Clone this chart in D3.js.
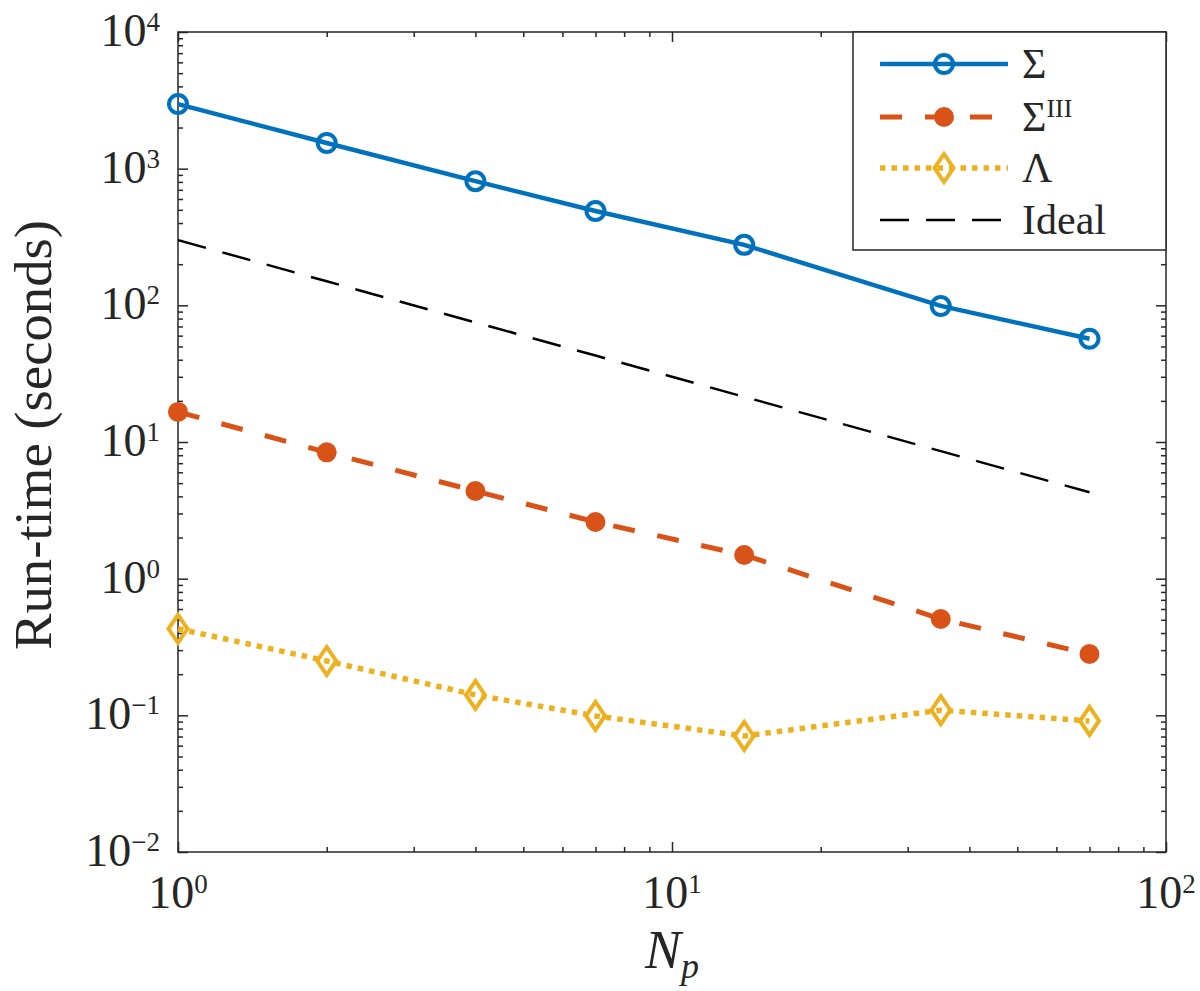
<!DOCTYPE html>
<html>
<head>
<meta charset="utf-8">
<script src="https://cdn.jsdelivr.net/npm/d3@7"></script>
<style>
    body { margin: 0; background: #fff; }
    text { font-family: 'Liberation Serif', 'DejaVu Serif', serif; fill: #262626; }
</style>
</head>
<body>
<div id="chart"></div>
<script>
'use strict';

/*
Data
 */
const npValues = [1, 2, 4, 7, 14, 35, 70];
const sigmaValues = [2970, 1540, 810, 490, 277, 99, 57];
const sigma3Values = [16.6, 8.4, 4.38, 2.6, 1.49, 0.507, 0.281];
const lambdaValues = [0.43, 0.25, 0.141, 0.099, 0.0706, 0.109, 0.091];
const idealValues = [300, 150, 75, 42.9, 21.4, 8.57, 4.29];
const xTickValues = [1, 10, 100];
const xTickExps = ['0', '1', '2'];
const yTickValues = [0.01, 0.1, 1, 10, 100, 1000, 10000];
const yTickExps = ['\u22122', '\u22121', '0', '1', '2', '3', '4'];
const seriesNames = ['sigma', 'sigma3', 'lambda', 'ideal'];

/*
Chart
 */
class RunTimeChart {

    // Configs
    svgW = 1200;
    svgH = 991;
    gMargin = {top: 32, right: 34, bottom: 139, left: 178};
    gW = this.svgW - (this.gMargin.left + this.gMargin.right);
    gH = this.svgH - (this.gMargin.top + this.gMargin.bottom);
    axisColor = '#262626';

    // Styles per series
    styles = {
        sigma: {color: '#0072BD', width: 4.5, dash: null, marker: 'circle'},
        sigma3: {color: '#D95319', width: 5, dash: '22 23', marker: 'dot'},
        lambda: {color: '#EDB120', width: 5.5, dash: '5.5 6', marker: 'diamond'},
        ideal: {color: '#000000', width: 2.5, dash: '29 17', marker: null}
    };

    constructor(_target) {
        this.target = _target;
        this.init();
    }

    /*
    1. Init
     */
    init() {
        const vis = this;

        vis.svg = d3.select(`#${vis.target}`)
            .append('svg')
            .attr('width', vis.svgW)
            .attr('height', vis.svgH);
        vis.g = vis.svg.append('g')
            .attr('transform', `translate(${vis.gMargin.left},${vis.gMargin.top})`);

        // Scales
        vis.x = d3.scaleLog().domain([1, 100]).range([0, vis.gW]);
        vis.y = d3.scaleLog().domain([0.01, 10000]).range([vis.gH, 0]);

        vis.wrangle();
    }

    /*
    2. Wrangle
     */
    wrangle() {
        const vis = this;

        const columns = {
            sigma: sigmaValues,
            sigma3: sigma3Values,
            lambda: lambdaValues,
            ideal: idealValues
        };
        vis.series = seriesNames.map(name => ({
            name: name,
            points: npValues.map((np, i) => ({x: np, y: columns[name][i]}))
        }));

        // Minor ticks 2..9 per decade
        vis.xMinor = [];
        xTickValues.slice(0, -1).forEach(d => {
            for (let k = 2; k <= 9; k++) vis.xMinor.push(d * k);
        });
        vis.yMinor = [];
        yTickValues.slice(0, -1).forEach(d => {
            for (let k = 2; k <= 9; k++) vis.yMinor.push(d * k);
        });

        vis.render();
    }

    /*
    3. Render
     */
    render() {
        const vis = this;

        vis.drawAxes();

        // Lines
        const lineMaker = d3.line()
            .x(d => vis.x(d.x))
            .y(d => vis.y(d.y));

        const plotG = vis.g.append('g').attr('class', 'plotG');
        vis.series.forEach(s => {
            const st = vis.styles[s.name];
            plotG.append('path')
                .datum(s.points)
                .attr('d', lineMaker)
                .attr('fill', 'none')
                .attr('stroke', st.color)
                .attr('stroke-width', st.width)
                .attr('stroke-dasharray', st.dash);
            if (st.marker) {
                plotG.selectAll(`.marker-${s.name}`)
                    .data(s.points)
                    .join('g')
                    .attr('class', `marker-${s.name}`)
                    .attr('transform', d => `translate(${vis.x(d.x)},${vis.y(d.y)})`)
                    .each(function() { vis.drawMarker(d3.select(this), st); });
            }
        });

        vis.drawLegend();
    }

    /*
    drawMarker
     */
    drawMarker(sel, st) {
        if (st.marker === 'circle') {
            sel.append('circle')
                .attr('r', 9)
                .attr('fill', 'none')
                .attr('stroke', st.color)
                .attr('stroke-width', 4);
        } else if (st.marker === 'dot') {
            sel.append('circle')
                .attr('r', 10)
                .attr('fill', st.color);
        } else if (st.marker === 'diamond') {
            sel.append('path')
                .attr('d', 'M0,-14L9.5,0L0,14L-9.5,0Z')
                .attr('fill', 'none')
                .attr('stroke', st.color)
                .attr('stroke-width', 4);
        }
    }

    /*
    drawAxes
     */
    drawAxes() {
        const vis = this;
        const axesG = vis.g.append('g').attr('class', 'axesG');

        // Inward ticks on all four sides
        const addAxis = (axisFn, scale, values, size, transform) => {
            const a = axesG.append('g')
                .attr('transform', transform)
                .call(axisFn(scale).tickValues(values).tickSize(-size).tickFormat(''));
            a.select('.domain').remove();
            a.selectAll('line').attr('stroke', vis.axisColor).attr('stroke-width', 1.5);
        };
        addAxis(d3.axisBottom, vis.x, xTickValues, 10, `translate(0,${vis.gH})`);
        addAxis(d3.axisBottom, vis.x, vis.xMinor, 5, `translate(0,${vis.gH})`);
        addAxis(d3.axisTop, vis.x, xTickValues, 10, 'translate(0,0)');
        addAxis(d3.axisTop, vis.x, vis.xMinor, 5, 'translate(0,0)');
        addAxis(d3.axisLeft, vis.y, yTickValues, 10, 'translate(0,0)');
        addAxis(d3.axisLeft, vis.y, vis.yMinor, 5, 'translate(0,0)');
        addAxis(d3.axisRight, vis.y, yTickValues, 10, `translate(${vis.gW},0)`);
        addAxis(d3.axisRight, vis.y, vis.yMinor, 5, `translate(${vis.gW},0)`);

        // Box
        axesG.append('rect')
            .attr('width', vis.gW)
            .attr('height', vis.gH)
            .attr('fill', 'none')
            .attr('stroke', vis.axisColor)
            .attr('stroke-width', 1.5);

        // X tick labels
        vis.g.append('g')
            .selectAll('text')
            .data(xTickValues)
            .join('text')
            .attr('x', d => vis.x(d))
            .attr('y', vis.gH + 56)
            .attr('text-anchor', 'middle')
            .attr('font-size', 46)
            .each(function(d, i) {
                const t = d3.select(this);
                t.append('tspan').text('10');
                t.append('tspan').attr('font-size', 27).attr('dy', -15).text(xTickExps[i]);
            });

        // Y tick labels
        vis.g.append('g')
            .selectAll('text')
            .data(yTickValues)
            .join('text')
            .attr('x', -18)
            .attr('y', d => vis.y(d) + 14)
            .attr('text-anchor', 'end')
            .attr('font-size', 46)
            .each(function(d, i) {
                const t = d3.select(this);
                t.append('tspan').text('10');
                t.append('tspan').attr('font-size', 27).attr('dy', -15).text(yTickExps[i]);
            });

        // Axis labels
        vis.svg.append('text')
            .attr('transform', `translate(51,${vis.gMargin.top + 403}) rotate(-90)`)
            .attr('text-anchor', 'middle')
            .attr('font-size', 52)
            .attr('textLength', 430)
            .attr('lengthAdjust', 'spacingAndGlyphs')
            .text('Run-time (seconds)');

        const xl = vis.svg.append('text')
            .attr('x', vis.gMargin.left + vis.gW / 2)
            .attr('y', 968)
            .attr('text-anchor', 'middle')
            .attr('font-size', 54)
            .attr('font-style', 'italic');
        xl.append('tspan').text('N');
        xl.append('tspan').attr('font-size', 36).attr('dy', 10).text('p');
    }

    /*
    drawLegend
     */
    drawLegend() {
        const vis = this;
        const lx = 853 - vis.gMargin.left;
        const ly = 0;
        const legG = vis.g.append('g').attr('class', 'legendG');

        legG.append('rect')
            .attr('x', lx)
            .attr('y', ly)
            .attr('width', vis.gW - lx)
            .attr('height', 218)
            .attr('fill', '#fff')
            .attr('stroke', vis.axisColor)
            .attr('stroke-width', 1.5);

        const rowY = [32, 85, 136, 188];
        seriesNames.forEach((name, i) => {
            const st = vis.styles[name];
            const row = legG.append('g')
                .attr('transform', `translate(${lx},${ly + rowY[i]})`);
            row.append('line')
                .attr('x1', 27)
                .attr('x2', 155)
                .attr('stroke', st.color)
                .attr('stroke-width', st.width)
                .attr('stroke-dasharray', st.dash);
            if (st.marker) {
                vis.drawMarker(row.append('g').attr('transform', 'translate(91,0)'), st);
            }
            const t = row.append('text')
                .attr('x', 169)
                .attr('y', 14)
                .attr('font-size', 42);
            if (name === 'sigma') {
                t.text('\u03A3');
            } else if (name === 'sigma3') {
                t.append('tspan').text('\u03A3');
                t.append('tspan').attr('font-size', 26).attr('dy', -14).text('III');
            } else if (name === 'lambda') {
                t.text('\u039B');
            } else {
                t.text('Ideal');
            }
        });
    }
}

new RunTimeChart('chart');
</script>
</body>
</html>
